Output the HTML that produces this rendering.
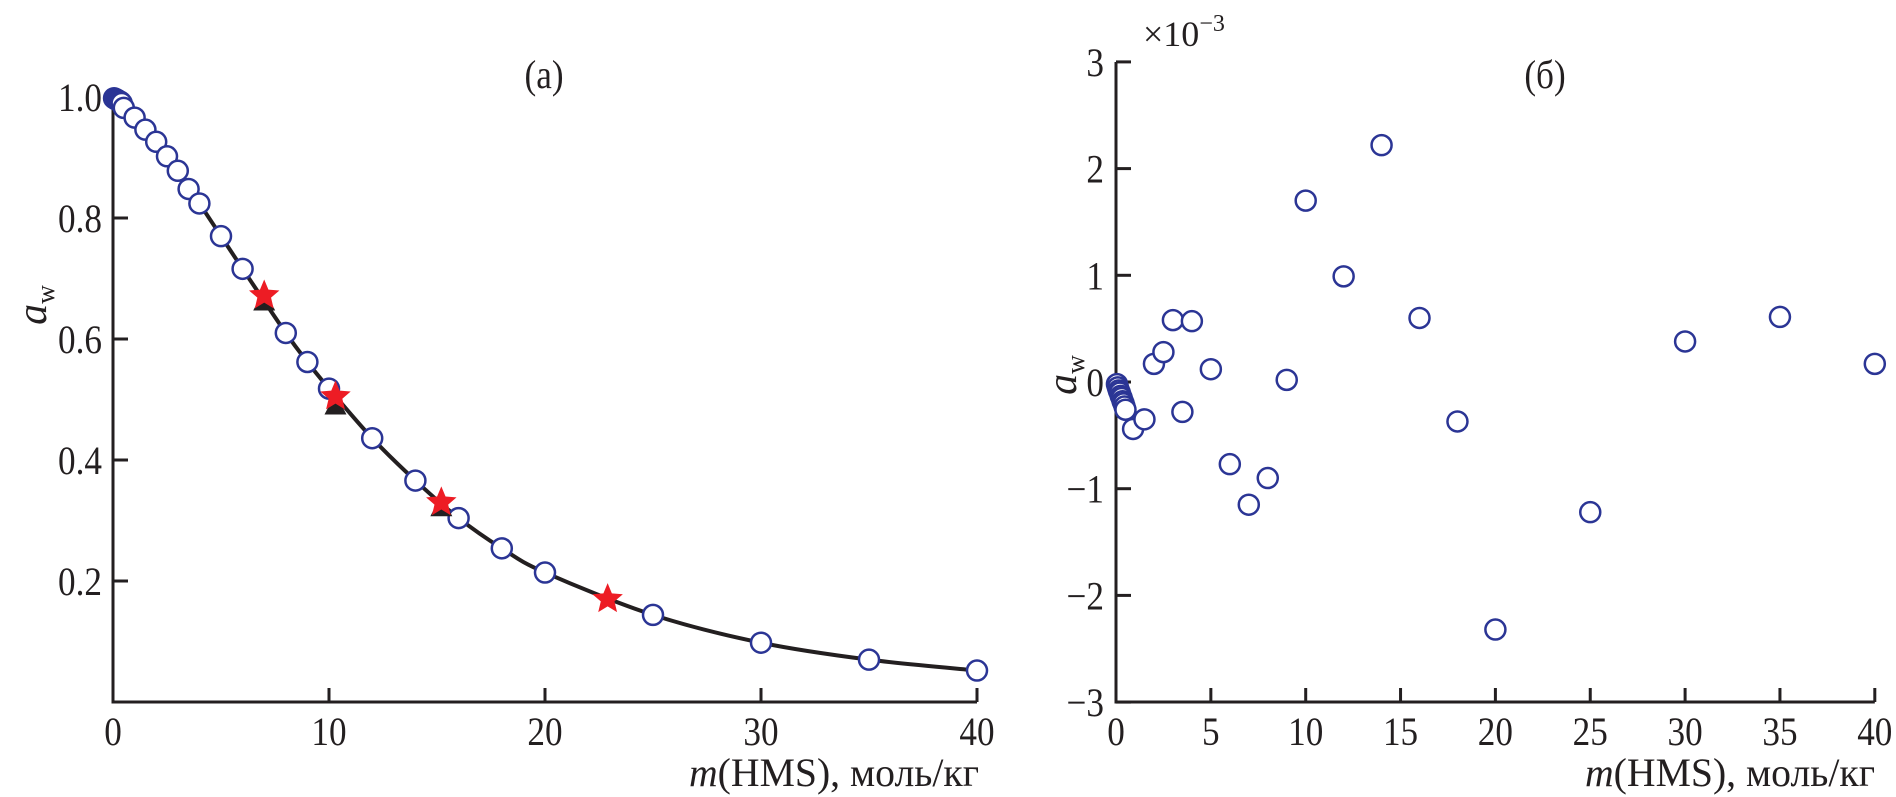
<!DOCTYPE html>
<html><head><meta charset="utf-8"><style>
html,body{margin:0;padding:0;background:#fff}
svg{display:block}
text{font-family:"Liberation Serif",serif;fill:#231f20}
</style></head><body>
<svg id="s" width="1896" height="797" viewBox="0 0 1896 797">
<g id="pa"></g>
<g id="pb"></g>
</svg>
<script>
// Panel (a)
const aCircX=[0.05,0.1,0.15,0.2,0.25,0.3,0.35,0.4,0.5,1,1.5,2,2.5,3,3.5,4,5,6,8,9,10,12,14,16,18,20,25,30,35,40];
const aCircY=[0.998,0.997,0.996,0.995,0.994,0.993,0.992,0.99,0.982,0.966,0.946,0.926,0.902,0.878,0.848,0.824,0.77,0.716,0.61,0.562,0.518,0.436,0.366,0.304,0.254,0.214,0.144,0.098,0.07,0.052];
const aStarX=[7,10.3,15.2,22.9];
const aStarY=[0.672,0.505,0.33,0.17];
const aTriX=[7,10.3,15.2];
const aTriY=[0.662,0.49,0.322];
const aXTicks=[0,10,20,30,40];
const aYTicks=[0.2,0.4,0.6,0.8,1.0];
const aYTickLabels=["0.2","0.4","0.6","0.8","1.0"];
// Panel (b)
const bX=[0.05,0.1,0.15,0.2,0.25,0.3,0.35,0.4,0.45,0.5,0.9,1.5,2,2.5,3,3.5,4,5,6,7,8,9,10,12,14,16,18,20,25,30,35,40];
const bY=[-0.02,-0.05,-0.08,-0.1,-0.13,-0.15,-0.18,-0.2,-0.23,-0.26,-0.44,-0.35,0.17,0.28,0.58,-0.28,0.57,0.12,-0.77,-1.15,-0.9,0.02,1.7,0.99,2.22,0.6,-0.37,-2.32,-1.22,0.38,0.61,0.17];
const bXTicks=[0,5,10,15,20,25,30,35,40];
const bYTicks=[-3,-2,-1,0,1,2,3];

const NS="http://www.w3.org/2000/svg";
function mk(p,t,a){const e=document.createElementNS(NS,t);for(const k in a)e.setAttribute(k,a[k]);p.appendChild(e);return e;}
const BLUE="#2b3595";
const FS=40;
function lbl(p,x,y,anchor,txt){
  const g=mk(p,'g',{transform:`translate(${x},${y}) scale(0.88,1)`});
  const tx=mk(g,'text',{x:0,y:0,'font-size':FS,'text-anchor':anchor});tx.textContent=txt;
  return tx;
}

// ---- panel a ----
const pa=document.getElementById('pa');
const ax=v=>113+v*21.6, ay=v=>702-v*605;
let pts=[[0,1]];aCircX.forEach((x,i)=>{if(x>=0.5)pts.push([x,aCircY[i]]);});
pts=pts.map(p=>[ax(p[0]),ay(p[1])]);
let d="M"+pts[0][0]+","+pts[0][1];
for(let i=0;i<pts.length-1;i++){const p0=pts[Math.max(0,i-1)],p1=pts[i],p2=pts[i+1],p3=pts[Math.min(pts.length-1,i+2)];
d+=" C"+(p1[0]+(p2[0]-p0[0])/6)+","+(p1[1]+(p2[1]-p0[1])/6)+" "+(p2[0]-(p3[0]-p1[0])/6)+","+(p2[1]-(p3[1]-p1[1])/6)+" "+p2[0]+","+p2[1];}
let c=mk(pa,'path',{d:d,fill:'none',stroke:'#231f20','stroke-width':4});


let l=mk(pa,'path',{d:`M113,97 V702 H${ax(40)}`,fill:'none',stroke:'#231f20','stroke-width':3});


aXTicks.forEach(t=>{
  if(t>0){const k=mk(pa,'line',{x1:ax(t),x2:ax(t),y1:702,y2:688,stroke:'#231f20','stroke-width':3});
  
  }
  const tx=lbl(pa,ax(t),745,'middle',String(t));
  
  
});
aYTicks.forEach((t,i)=>{
  const k=mk(pa,'line',{x1:113,x2:128,y1:ay(t),y2:ay(t),stroke:'#231f20','stroke-width':3});
  
  
  const tx=lbl(pa,102,ay(t)+14,'end',aYTickLabels[i]);
  
  
});
aCircX.forEach((x,i)=>{
  const e=mk(pa,'circle',{cx:ax(x),cy:ay(aCircY[i]),r:10,fill:'#fff',stroke:BLUE,'stroke-width':2.5});
  
  
});
function star(cx,cy,R){let s="";for(let i=0;i<10;i++){const r=i%2?R*0.45:R;const a=-Math.PI/2+i*Math.PI/5;s+=(i?"L":"M")+(cx+r*Math.cos(a))+","+(cy+r*Math.sin(a));}return s+"Z";}
aTriX.forEach((x,i)=>{
  const X=ax(x),Y=ay(aTriY[i]);
  const e=mk(pa,'path',{d:`M${X},${Y-12} L${X+11},${Y+9} L${X-11},${Y+9} Z`,fill:'#231f20'});
  
  
});
aStarX.forEach((x,i)=>{
  const e=mk(pa,'path',{d:star(ax(x),ay(aStarY[i]),16),fill:'#ed1c24'});
  
  
});
let t=lbl(pa,544,88,'middle','(а)');


t=mk(pa,'text',{x:979,y:786,'font-size':FS,'text-anchor':'end',textLength:290,lengthAdjust:'spacingAndGlyphs'});t.innerHTML='<tspan font-style="italic">m</tspan>(HMS), моль/кг';


t=mk(pa,'text',{transform:'translate(46,305) rotate(-90)','font-size':42,'text-anchor':'middle'});t.innerHTML='<tspan font-style="italic">a</tspan><tspan font-size="26" dy="8">w</tspan>';



// ---- panel b ----
const pb=document.getElementById('pb');
const bx=v=>1116+v*18.97, by=v=>382-v*106.7;
l=mk(pb,'path',{d:`M1116,62 V702 H${bx(40)}`,fill:'none',stroke:'#231f20','stroke-width':3});


bXTicks.forEach(v=>{
  if(v>0){const k=mk(pb,'line',{x1:bx(v),x2:bx(v),y1:702,y2:688,stroke:'#231f20','stroke-width':3});
  
  }
  const tx=lbl(pb,bx(v),745,'middle',String(v));
  
  
});
bYTicks.forEach(v=>{
  const k=mk(pb,'line',{x1:1116,x2:1131,y1:by(v),y2:by(v),stroke:'#231f20','stroke-width':3});
  
  
  const tx=lbl(pb,1104,by(v)+14,'end',v<0?'\u2212'+(-v):String(v));
  
  
});
bX.forEach((x,i)=>{
  const e=mk(pb,'circle',{cx:bx(x),cy:by(bY[i]),r:10,fill:'#fff',stroke:BLUE,'stroke-width':2.5});
  
  
});
t=lbl(pb,1545,88,'middle','(б)');


t=mk(pb,'text',{x:1143,y:46,'font-size':36});t.innerHTML='×10<tspan font-size="24" dy="-15">−3</tspan>';


t=mk(pb,'text',{x:1875,y:786,'font-size':FS,'text-anchor':'end',textLength:290,lengthAdjust:'spacingAndGlyphs'});t.innerHTML='<tspan font-style="italic">m</tspan>(HMS), моль/кг';


t=mk(pb,'text',{transform:'translate(1076,375) rotate(-90)','font-size':42,'text-anchor':'middle'});t.innerHTML='<tspan font-style="italic">a</tspan><tspan font-size="26" dy="8">w</tspan>';


</script>
</body></html>
